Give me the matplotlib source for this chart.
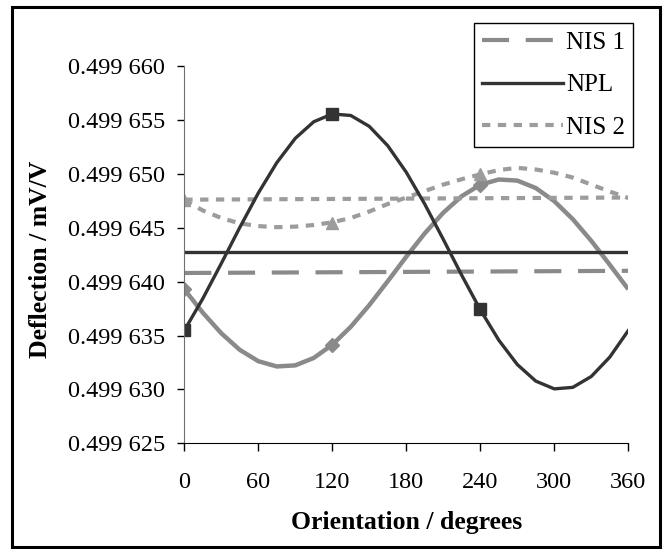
import numpy as np
import matplotlib
matplotlib.use("Agg")
import matplotlib.pyplot as plt
from matplotlib.patches import Rectangle

plt.rcParams['font.family'] = ['Liberation Serif', 'DejaVu Serif']

# Orientation (degrees) and deflection, given as offset in 1e-6 mV/V above 0.499
angles = [0, 15, 30, 45, 60, 75, 90, 105, 120, 135, 150, 165, 180,
          195, 210, 225, 240, 255, 270, 285, 300, 315, 330, 345, 360]
npl_curve = [635.46, 638.42, 641.68, 645.02, 648.21, 651.03, 653.29, 654.83, 655.55,
             655.41, 654.40, 652.60, 650.14, 647.18, 643.92, 640.58, 637.39, 634.57,
             632.31, 630.77, 630.05, 630.19, 631.20, 633.00, 635.46]
nis1_curve = [639.29, 637.12, 635.21, 633.67, 632.62, 632.13, 632.23, 632.92, 634.14,
              635.81, 637.82, 640.04, 642.31, 644.48, 646.39, 647.93, 648.98, 649.47,
              649.37, 648.68, 647.46, 645.79, 643.78, 641.56, 639.29]
nis2_curve = [647.55, 646.6, 645.9, 645.4, 645.15, 645.05, 645.1, 645.25, 645.5,
              645.9, 646.5, 647.2, 647.8, 648.4, 649.0, 649.5, 649.95, 650.35,
              650.55, 650.4, 650.1, 649.65, 649.0, 648.35, 647.75]

meas_angles = [0, 120, 240]
npl_meas = [635.5, 655.55, 637.45]
nis1_meas = [639.3, 634.1, 649.0]
nis2_meas = [647.55, 645.45, 650.0]

mean_angles = [0, 360]
nis1_mean = [640.8, 641.0]
npl_mean = [642.7, 642.7]
nis2_mean = [647.6, 647.8]

xticks = [0, 60, 120, 180, 240, 300, 360]
yticks = [625, 630, 635, 640, 645, 650, 655, 660]
ytick_labels = ["0.499 %d" % v for v in yticks]

dark = '#333333'
grey1 = '#8a8a8a'
grey2 = '#9c9c9c'

fig = plt.figure(figsize=(6.65, 5.49), dpi=100)
ax = fig.add_axes([0.2771, 0.1925, 0.6677, 0.6873])

# NIS 1
ax.plot(mean_angles, nis1_mean, color=grey1, lw=3, ls=(0, (6.5, 4)), label='NIS 1')
ax.plot(angles, nis1_curve, color=grey1, lw=3.2, solid_capstyle='butt')
ax.plot(meas_angles, nis1_meas, ls='none', marker='D', ms=7, color=grey1)
# NIS 2
ax.plot(mean_angles, nis2_mean, color=grey2, lw=3, ls=(0, (2, 1.8)), label='NIS 2')
ax.plot(angles, nis2_curve, color=grey2, lw=3, ls=(0, (2, 1.8)))
ax.plot(meas_angles, nis2_meas, ls='none', marker='^', ms=8.5, color=grey2)
# NPL
ax.plot(mean_angles, npl_mean, color=dark, lw=2.4, label='NPL')
ax.plot(angles, npl_curve, color=dark, lw=2.4)
ax.plot(meas_angles, npl_meas, ls='none', marker='s', ms=8, color=dark)

ax.set_xlim(0, 360)
ax.set_ylim(625, 660)
ax.set_xticks(xticks)
ax.set_yticks(yticks)
ax.set_yticklabels(ytick_labels)
ax.tick_params(axis='x', direction='out', length=6, width=1, pad=15, labelsize=17.5)
ax.tick_params(axis='y', direction='out', length=5, width=1, pad=9, labelsize=17.5)
for s in ['top', 'right']:
    ax.spines[s].set_visible(False)
ax.spines['left'].set_color('#707070')
ax.spines['bottom'].set_color('black')

ax.set_xlabel('Orientation / degrees', fontsize=18.5, fontweight='bold')
ax.set_ylabel('Deflection / mV/V', fontsize=18.5, fontweight='bold')
ax.xaxis.set_label_coords(0.5, -0.179)
ax.yaxis.set_label_coords(-0.298, 0.488)

handles, labels = ax.get_legend_handles_labels()
order = [labels.index(n) for n in ['NIS 1', 'NPL', 'NIS 2']]
leg = ax.legend([handles[i] for i in order], [labels[i] for i in order],
                loc='upper right', bbox_to_anchor=(633 / 665, 1 - 23 / 549),
                bbox_transform=fig.transFigure, fontsize=18, handlelength=3.25,
                handletextpad=0.1, labelspacing=0.8, borderpad=0.33, borderaxespad=0,
                fancybox=False, framealpha=1, edgecolor='black')
leg.get_frame().set_linewidth(1)

# outer frame round the whole chart
fig.patches.append(Rectangle((12 / 665, 2 / 549), 648 / 665, 540 / 549,
                             transform=fig.transFigure, fill=False,
                             edgecolor='black', lw=2.2))

fig.savefig('out.png', dpi=100)
